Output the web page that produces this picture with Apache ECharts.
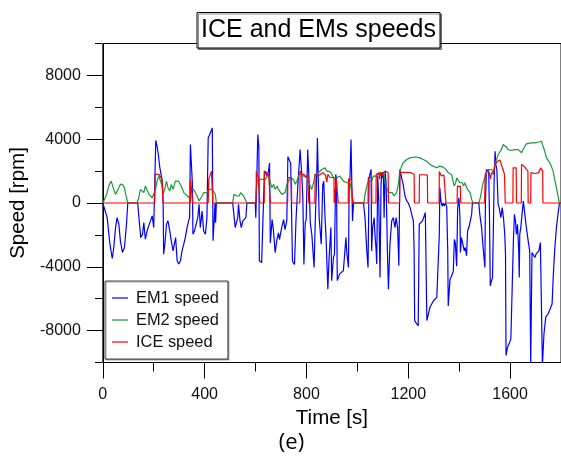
<!DOCTYPE html>
<html>
<head>
<meta charset="utf-8">
<script src="https://cdn.jsdelivr.net/npm/echarts@6/dist/echarts.min.js"></script>
<style>
html,body{margin:0;padding:0;background:#fff;}
#c{width:561px;height:465px;}
</style>
</head>
<body>
<div id="c"></div>
<script>
// ---- data: [time (s), speed (rpm)] ----
const em1Data = [
[0,0],[7,0],[17,-920],[28,-2580],[37,-3480],[43,-2790],[50,-1540],[56,-920],[63,-1330],[69,-2370],[77,-3100],[85,-2790],[93,-1330],[98,0],
[137,0],[143,-1120],[149,-2170],[156,-1960],[161,-1230],[167,-2270],[174,-1750],[181,-1850],[187,-1120],[194,-810],[200,-1540],[204,-1540],[208,3920],[213,3560],[218,3040],[224,2210],[229,1790],[234,1170],[237,-80],[239,-3210],[245,-2370],[250,-1330],[256,-1120],[263,-1750],[269,-2370],[276,-3000],[281,-2900],[286,-2170],[292,-3620],[298,-3830],[305,-3620],[311,-3000],[318,-2580],[324,-2170],[331,-1540],[337,-1120],[341,-920],[344,3670],[348,3770],[352,1170],[354,-1960],[360,-1750],[366,-1850],[373,-920],[378,-80],[383,-1540],[390,-500],[396,-1750],[403,-1960],[409,-920],[414,4080],[420,4290],[425,4500],[430,4710],[433,-2370],[438,-920],[441,0],[443,-1230],[446,0],
[510,0],[515,-710],[520,-1540],[524,-1650],[530,-920],[533,-80],[539,-1120],[544,-1540],[550,-1120],[557,-1230],[562,-920],[566,0],
[599,0],[601,-920],[604,-900],[609,4290],[613,3460],[615,-3620],[624,-3730],[631,-3620],[635,2000],[640,2100],[646,1690],[651,2000],[655,2500],[658,-2500],[665,-1040],[670,-1670],[677,-3120],[684,-2290],[690,-1870],[694,-2290],[701,-1670],[710,-1040],[716,-1670],[723,-1040],[727,2900],[732,2900],[738,2500],[742,-1000],[745,-3650],[753,-3850],[759,-1040],[766,1040],[775,3350],[782,1670],[786,200],[790,-3850],[795,-1250],[799,-1040],[805,3350],[811,1040],[815,-1250],[821,-1960],[830,-4040],[834,-1540],[841,2210],[843,4080],[850,-920],[858,-2580],[864,1170],[868,1370],[873,-920],[877,-2170],[884,-5400],[889,-3420],[896,-1540],[899,-4870],[906,-3420],[910,-3210],[915,1790],[918,1500],[921,-4870],[926,-4870],[930,-4460],[936,-4370],[945,-4250],[950,-4250],[955,-2170],[958,-3000],[965,-4040],[968,1370],[971,1580],[975,3980],[978,3980],[981,-1120],[985,0],
[1024,0],[1030,-920],[1037,-3000],[1042,-4040],[1046,1580],[1050,1690],[1054,2100],[1056,-3000],[1060,-1540],[1066,-920],[1069,-1960],[1073,-2790],[1076,-3830],[1080,1690],[1084,130],[1089,-4670],[1093,1170],[1096,1900],[1100,1580],[1102,1900],[1105,-920],[1109,2000],[1113,1170],[1118,-3000],[1122,-5400],[1128,-2580],[1135,-1120],[1141,-920],[1148,-1540],[1152,-920],[1158,-1540],[1163,-3940],[1167,2100],[1170,2100],[1174,1580],[1180,1170],[1187,440],[1194,130],[1200,0],[1207,-290],[1213,-400],[1220,-1120],[1223,-3000],[1225,-7370],[1230,-7500],[1235,-7600],[1239,-7700],[1243,-1330],[1248,-1230],[1256,-1120],[1263,-1020],[1267,-600],[1272,-600],[1273,-7370],[1279,-6960],[1285,-6540],[1292,-6330],[1299,-6130],[1305,-6020],[1312,-5920],[1317,-5800],[1322,-1960],[1324,960],[1328,125],[1333,-190],[1337,0],[1341,-190],[1346,0],[1351,-210],[1355,-3000],[1357,-6460],[1364,-4790],[1370,-4580],[1377,-4270],[1381,-2290],[1385,-2500],[1390,-3960],[1394,-290],[1399,330],[1403,-920],[1405,-3100],[1409,-2170],[1416,-2170],[1420,-3000],[1424,-2790],[1429,-3310],[1433,-1750],[1438,-1540],[1443,-1440],[1449,-710],[1452,0],
[1477,0],[1481,-710],[1488,-1540],[1494,-2790],[1501,-4040],[1503,0],[1507,2100],[1511,2210],[1516,2000],[1519,-710],[1522,-5190],[1527,-4870],[1531,-4670],[1535,-920],[1537,1170],[1541,3250],[1544,2420],[1548,2100],[1553,-80],[1557,-290],[1564,-920],[1569,-290],[1574,-920],[1579,-1960],[1582,-3210],[1584,-9560],[1590,-9040],[1596,-8830],[1603,-8520],[1609,-8430],[1613,-2370],[1617,-710],[1621,-1120],[1625,-1960],[1629,-1330],[1634,-3000],[1636,-4670],[1638,-1960],[1642,-1540],[1647,-710],[1652,125],[1658,-710],[1664,-1540],[1671,-2370],[1677,-3000],[1681,-10080],[1686,-3100],[1692,-3210],[1697,-3420],[1702,-3210],[1708,-3210],[1713,-3000],[1719,-2480],[1723,-2580],[1727,-10180],[1733,-8230],[1740,-7160],[1749,-6960],[1760,-6540],[1765,-6330],[1770,-4460],[1775,-3000],[1782,-1540],[1788,-710],[1794,0],[1800,0]
];

const em2Data = [
[0,0],[7,0],[15,540],[20,850],[26,1170],[33,1370],[38,1270],[43,850],[50,540],[56,650],[63,960],[69,1170],[77,1170],[85,960],[90,540],[98,0],
[135,0],[141,330],[148,850],[154,960],[161,650],[167,1060],[174,960],[181,540],[187,440],[194,330],[200,440],[207,850],[213,1370],[220,1690],[226,1580],[231,1170],[237,540],[243,850],[250,1370],[256,960],[263,750],[269,1170],[276,850],[285,1370],[292,1480],[298,1370],[305,1270],[311,960],[318,650],[326,540],[333,540],[339,330],[344,850],[350,960],[357,850],[364,650],[370,440],[378,125],[383,0],[390,440],[396,650],[403,750],[409,650],[416,850],[422,960],[429,850],[435,960],[442,540],[446,0],
[510,0],[515,540],[520,650],[526,440],[531,330],[536,440],[541,650],[547,540],[553,440],[560,330],[566,0],
[599,0],[601,330],[605,1270],[612,1480],[618,1370],[625,1480],[632,1580],[638,1480],[645,1580],[651,1790],[658,1270],[664,960],[671,1170],[677,850],[684,1060],[690,850],[697,960],[703,540],[710,440],[716,650],[723,1170],[730,1370],[736,1580],[743,1480],[749,1480],[756,1170],[762,1370],[769,1690],[775,1900],[782,1790],[788,1690],[795,1580],[801,1690],[808,1370],[815,1060],[821,850],[828,1270],[834,1790],[841,1690],[847,1900],[854,2000],[860,2100],[867,2210],[873,2210],[880,2000],[886,1900],[893,1950],[900,1790],[906,1580],[913,1480],[919,1580],[926,1690],[932,1690],[939,1580],[945,1370],[952,1270],[958,1270],[965,1370],[971,1270],[975,960],[979,440],[985,0],
[1026,0],[1030,540],[1037,1060],[1043,1370],[1050,1480],[1056,1370],[1063,1690],[1069,1580],[1076,1690],[1083,1790],[1089,1900],[1096,1790],[1102,1900],[1106,1900],[1111,1170],[1118,850],[1124,650],[1131,540],[1137,650],[1144,440],[1150,540],[1154,650],[1161,1170],[1167,2000],[1174,2310],[1180,2520],[1194,2730],[1207,2830],[1220,2870],[1233,2870],[1246,2830],[1259,2730],[1272,2620],[1285,2420],[1298,2310],[1311,2210],[1318,2170],[1324,2310],[1331,2210],[1337,2250],[1344,2210],[1351,2050],[1357,1900],[1364,1900],[1370,1790],[1377,1270],[1381,1060],[1386,1270],[1391,1580],[1396,1580],[1402,1270],[1407,1170],[1412,1270],[1417,1060],[1422,1270],[1428,1270],[1433,850],[1438,750],[1443,650],[1449,230],[1454,0],
[1477,0],[1483,330],[1488,750],[1494,1270],[1501,1580],[1507,1900],[1514,2100],[1520,2210],[1527,2100],[1534,1900],[1540,2420],[1547,2730],[1553,3040],[1560,3150],[1566,3350],[1573,3670],[1579,3600],[1586,3500],[1592,3350],[1599,3250],[1605,3290],[1612,3250],[1618,3350],[1625,3250],[1632,3350],[1638,3250],[1645,3150],[1651,3350],[1658,3560],[1664,3710],[1671,3770],[1684,3770],[1697,3770],[1710,3810],[1717,3830],[1723,3870],[1727,3830],[1736,3250],[1743,2830],[1749,2730],[1756,2520],[1762,2310],[1769,2000],[1775,1480],[1782,960],[1788,440],[1794,0],[1800,0]
];

const iceData = [
[0,0],[204,0],[206,1790],[213,1900],[220,1790],[226,1690],[233,1480],[236,1480],[237,0],
[344,0],[345,1480],[352,1480],[353,0],
[414,0],[416,1480],[422,1580],[427,2000],[431,2000],[432,0],
[602,0],[603,2000],[610,2000],[612,1500],[616,1500],[617,0],
[634,0],[635,2000],[645,1900],[652,1700],[657,1700],[658,0],
[726,0],[727,1600],[741,1600],[742,0],
[774,0],[775,2000],[782,1800],[790,1800],[797,1600],[805,1800],[808,1700],[809,0],
[833,0],[834,1800],[845,1700],[855,1800],[865,1900],[875,1750],[880,1300],[884,1800],[889,1700],[893,1600],[900,1500],[908,1600],[909,0],
[916,0],[917,1500],[924,1500],[925,0],
[964,0],[965,1500],[975,1500],[981,1400],[982,0],
[1042,0],[1043,1600],[1050,1580],[1056,1600],[1057,0],
[1073,0],[1074,1800],[1080,1700],[1085,1900],[1088,1500],[1090,1900],[1095,1700],[1100,1900],[1105,1800],[1110,2000],[1116,1900],[1121,1900],[1122,0],
[1166,0],[1167,1920],[1190,1920],[1210,1900],[1215,1800],[1223,1800],[1224,0],
[1243,0],[1244,1770],[1260,1770],[1275,1750],[1276,0],
[1321,0],[1322,1980],[1330,1700],[1340,1750],[1347,1700],[1348,0],
[1392,0],[1393,1060],[1405,1040],[1406,0],
[1500,0],[1502,1800],[1510,2000],[1518,1900],[1523,1500],[1527,1900],[1535,1800],[1540,2400],[1550,2600],[1560,2700],[1566,2600],[1572,2100],[1578,1800],[1581,0],
[1611,0],[1612,2200],[1624,2200],[1625,0],
[1644,0],[1645,2420],[1655,2300],[1670,2000],[1671,0],
[1681,0],[1682,1900],[1700,1850],[1712,1900],[1720,2200],[1728,2000],[1729,0],
[1800,0]
];

const seriesNames = ['EM1 speed','EM2 speed','ICE speed'];
const seriesColors = ['#0000ff','#1a9a3a','#ff0000'];
const xMajorTicks = [0,400,800,1200,1600];
const xMinorTicks = [200,600,1000,1400,1800];
const yMajorTicks = [-8000,-4000,0,4000,8000];
const yMinorTicks = [-10000,-6000,-2000,2000,6000,10000];
const titleText = 'ICE and EMs speeds';
const xName = 'Time [s]';
const yName = 'Speed [rpm]';
const panelLabel = '(e)';

const FONT = 'Liberation Sans, Arial, sans-serif';
const gridRect = {left:102, top:43.5, width:459, height:319};
const plain = v => String(v);

const chart = echarts.init(document.getElementById('c'), null, {renderer:'canvas', width:561, height:465});
const blackLine = {color:'#000', width:1};

chart.setOption({
  animation:false,
  backgroundColor:'#fff',
  grid:[
    Object.assign({show:true, borderColor:'#000', borderWidth:1, backgroundColor:'transparent'}, gridRect),
    Object.assign({show:false}, gridRect)
  ],
  xAxis:[
    {type:'value', gridIndex:0, min:0, max:1800, position:'bottom',
     axisLine:{show:true, onZero:false, lineStyle:blackLine},
     axisTick:{show:true, customValues:xMajorTicks, length:16, lineStyle:blackLine},
     axisLabel:{show:true, customValues:xMajorTicks, formatter:plain, margin:24, fontSize:16, color:'#111', fontFamily:FONT},
     splitLine:{show:false},
     name:xName, nameLocation:'middle', nameGap:45,
     nameTextStyle:{fontSize:20.5, color:'#000', fontFamily:FONT}},
    {type:'value', gridIndex:1, min:0, max:1800, position:'bottom',
     axisLine:{show:false, onZero:false},
     axisTick:{show:true, customValues:xMinorTicks, length:9, lineStyle:blackLine},
     axisLabel:{show:false}, splitLine:{show:false}}
  ],
  yAxis:[
    {type:'value', gridIndex:0, min:-10000, max:10000, position:'left',
     axisLine:{show:true, onZero:false, lineStyle:blackLine},
     axisTick:{show:true, customValues:yMajorTicks, length:16, lineStyle:blackLine},
     axisLabel:{show:true, customValues:yMajorTicks, formatter:plain, margin:22, fontSize:16, color:'#111', fontFamily:FONT},
     splitLine:{show:false},
     name:yName, nameLocation:'middle', nameGap:68,
     nameTextStyle:{fontSize:20.5, color:'#000', fontFamily:FONT}},
    {type:'value', gridIndex:1, min:-10000, max:10000, position:'left',
     axisLine:{show:false, onZero:false},
     axisTick:{show:true, customValues:yMinorTicks, length:7, lineStyle:blackLine},
     axisLabel:{show:false}, splitLine:{show:false}}
  ],
  legend:{
    orient:'vertical', left:105, top:281, data:seriesNames,
    icon:'rect', itemWidth:16, itemHeight:1.2, itemGap:4,
    padding:[8,9,8,7], borderColor:'#444', borderWidth:1, backgroundColor:'#fff',
    shadowColor:'rgba(0,0,0,0.35)', shadowOffsetX:1, shadowOffsetY:1,
    textStyle:{fontSize:16.4, fontFamily:FONT, color:'#111', lineHeight:18, padding:[0,0,0,3]}
  },
  graphic:[
    {type:'rect', z:100, shape:{x:197, y:12.5, width:243, height:35.5},
     style:{fill:'#fff', stroke:'#000', lineWidth:1, shadowColor:'rgba(0,0,0,0.45)', shadowOffsetX:1.5, shadowOffsetY:1.5}},
    {type:'text', z:101, x:318.5, y:30.5,
     style:{text:titleText, fontSize:25, fontFamily:FONT, fill:'#000', align:'center', verticalAlign:'middle'}},
    {type:'text', z:101, x:291.5, y:443,
     style:{text:panelLabel, fontSize:22, fontFamily:'Open Sans, Noto Sans, sans-serif', fill:'#000', align:'center', verticalAlign:'middle'}}
  ],
  series:[
    {name:seriesNames[0], type:'line', xAxisIndex:0, yAxisIndex:0, data:em1Data, showSymbol:false, symbol:'none',
     color:seriesColors[0], lineStyle:{width:1.2, color:seriesColors[0]}, z:2, clip:true},
    {name:seriesNames[1], type:'line', xAxisIndex:0, yAxisIndex:0, data:em2Data, showSymbol:false, symbol:'none',
     color:seriesColors[1], lineStyle:{width:1.2, color:seriesColors[1]}, z:3, clip:true},
    {name:seriesNames[2], type:'line', xAxisIndex:0, yAxisIndex:0, data:iceData, showSymbol:false, symbol:'none',
     color:seriesColors[2], lineStyle:{width:1.2, color:seriesColors[2]}, z:4, clip:true}
  ]
});
</script>
</body>
</html>
